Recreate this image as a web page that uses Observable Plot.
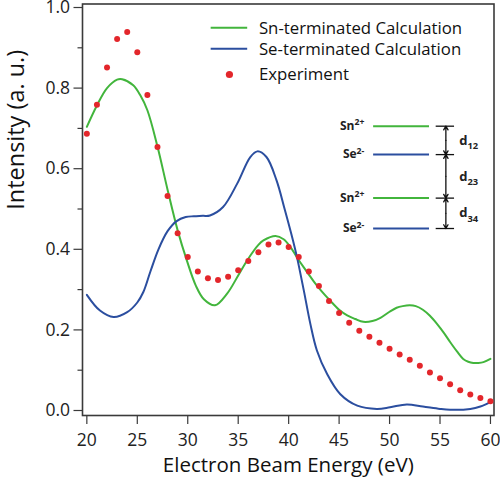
<!DOCTYPE html>
<html><head><meta charset="utf-8">
<script src="https://cdn.jsdelivr.net/npm/d3@7"></script>
<script src="https://cdn.jsdelivr.net/npm/@observablehq/plot@0.6"></script>
<style>body{margin:0;background:#fff}#chart{width:500px;height:478px}</style>
</head><body><div id="chart"></div>
<script>
// ---------- data ----------
const expEnergy = [20,21,22,23,24,25,26,27,28,29,30,31,32,33,34,35,36,37,38,39,40,41,42,43,44,45,46,47,48,49,50,51,52,53,54,55,56,57,58,59,60];
const expIntensity = [0.687,0.759,0.851,0.922,0.939,0.889,0.783,0.654,0.532,0.440,0.381,0.345,0.328,0.324,0.332,0.348,0.371,0.393,0.412,0.417,0.406,0.381,0.345,0.309,0.272,0.242,0.218,0.198,0.183,0.168,0.153,0.139,0.126,0.111,0.094,0.080,0.065,0.050,0.040,0.031,0.023];

const snEnergy = [20,21,22,23,23.5,24.6,25.3,26,27,28,29,29.9,30.8,31.6,32.7,33.9,35,35.9,37,37.5,38.7,39.5,40.2,40.8,41.5,42.5,43.3,44.1,45,45.8,46.6,47.4,48.3,49.1,50,50.7,51.3,52,52.6,53.3,54,54.7,55.4,56,56.7,57.3,57.8,58.3,58.8,59.3,60];
const snIntensity = [0.704,0.757,0.800,0.821,0.822,0.807,0.782,0.745,0.655,0.548,0.447,0.373,0.310,0.276,0.261,0.290,0.335,0.373,0.411,0.422,0.433,0.425,0.405,0.381,0.355,0.320,0.295,0.273,0.250,0.236,0.227,0.220,0.222,0.230,0.245,0.255,0.259,0.261,0.259,0.250,0.235,0.215,0.192,0.170,0.146,0.128,0.121,0.118,0.118,0.120,0.128];

const seEnergy = [20,21.3,22.65,24,25,25.6,26.3,27.1,28,28.9,29.8,30.6,31.5,32.2,33.5,34.9,36.2,36.9,37.8,38.8,39.6,40.43,40.83,41.5,42.15,42.8,43.8,45.1,46.8,48.75,50.05,51.7,53.3,55,56,58,59,60];
const seIntensity = [0.287,0.248,0.232,0.244,0.268,0.294,0.345,0.400,0.445,0.470,0.480,0.482,0.483,0.484,0.505,0.563,0.629,0.643,0.629,0.571,0.500,0.422,0.380,0.298,0.215,0.149,0.091,0.041,0.012,0.004,0.008,0.015,0.010,0.004,0.002,0.004,0.010,0.021];

const yMajorTicks = [0.0,0.2,0.4,0.6,0.8,1.0];
const yMinorTicks = [0.1,0.3,0.5,0.7,0.9];
const xTicks = [20,25,30,35,40,45,50,55,60];

const seriesNames = ["Sn-terminated Calculation","Se-terminated Calculation","Experiment"];
const xTitle = "Electron Beam Energy (eV)";
const yTitle = "Intensity (a. u.)";
const layerLabels = ["Sn^2+","Se^2-","Sn^2+","Se^2-"];
const spacingLabels = ["d_12","d_23","d_34"];

// ---------- styles & layout ----------
const GREEN = "#42b53c", BLUE = "#2b4e9f", RED = "#e3262b", AXIS = "#3a3a3a";
const FONT = "'Open Sans', sans-serif";
const ctx = document.createElement("canvas").getContext("2d");
function fit(text, target, weight = "normal") {
  ctx.font = `${weight} 100px ${FONT}`;
  return 100 * target / ctx.measureText(text).width;
}
const tickSize = 17.5;
const xTitleSize = fit(xTitle, 251);
const yTitleSize = fit(yTitle, 160);
const legendSize = Math.min(16.8, fit(seriesNames[0], 215));

const sn = snEnergy.map((x, i) => ({x, y: snIntensity[i]}));
const se = seEnergy.map((x, i) => ({x, y: seIntensity[i]}));
const ex = expEnergy.map((x, i) => ({x, y: expIntensity[i]}));

// legend placement (data units)
const legX1 = 32.32, legX2 = 35.94, legDotX = 34.13, legTextX = 37.05;
const legLineY = [0.9496, 0.8975], legDotY = 0.8337, legTextY = [0.9475, 0.8955, 0.834];
// inset placement (data units)
const lvY = [0.7055, 0.635, 0.527, 0.4516];
const lvLabelX = 47.5, lvX1 = 48.42, lvX2 = 53.96, brX1 = 54.62, brX2 = 56.44, brX = 55.58, dX = 56.9;
const colorOf = s => s.startsWith("Sn") ? GREEN : BLUE;
const segs = [];
for (let i = 0; i < 3; i++) {
  const m = (lvY[i] + lvY[i+1]) / 2;
  segs.push({y1: m, y2: lvY[i]}, {y1: m, y2: lvY[i+1]});
}

const chart = Plot.plot({
  width: 500, height: 478,
  marginLeft: 82, marginRight: 6.5, marginTop: 3.5, marginBottom: 63,
  x: {domain: [19.57, 60.35]},
  y: {domain: [-0.0124, 1.0087]},
  style: {fontFamily: FONT, background: "white", color: "#222", overflow: "visible"},
  marks: [
    Plot.axisY({ticks: yMajorTicks, tickFormat: d3.format(".1f"), tickSize: 8.5, tickPadding: 4, fontSize: tickSize, label: null, stroke: AXIS, strokeWidth: 1.2}),
    Plot.axisY({ticks: yMinorTicks, tickFormat: () => "", tickSize: 4.5, label: null, stroke: AXIS, strokeWidth: 1.2}),
    Plot.axisX({ticks: xTicks, tickSize: 9, tickPadding: 9, fontSize: tickSize, label: null, stroke: AXIS, strokeWidth: 1.2}),
    Plot.frame({stroke: AXIS, strokeWidth: 1.6}),
    Plot.line(sn, {x: "x", y: "y", stroke: GREEN, strokeWidth: 2, curve: "catmull-rom"}),
    Plot.line(se, {x: "x", y: "y", stroke: BLUE, strokeWidth: 2, curve: "catmull-rom"}),
    Plot.dot(ex, {x: "x", y: "y", r: 3, fill: RED}),
    // axis titles
    Plot.text([xTitle], {frameAnchor: "bottom", text: d => d, lineAnchor: "top", dy: 42, fontSize: xTitleSize, fill: "#111"}),
    Plot.text([yTitle], {frameAnchor: "left", text: d => d, rotate: -90, lineAnchor: "top", dx: -75.5, fontSize: yTitleSize, fill: "#111"}),
    // legend
    Plot.ruleY(legLineY, {y: d => d, x1: legX1, x2: legX2, stroke: (d, i) => [GREEN, BLUE][i], strokeWidth: 2}),
    Plot.dot([legDotY], {x: legDotX, y: d => d, r: 3.6, fill: RED}),
    Plot.text(seriesNames, {x: legTextX, y: (d, i) => legTextY[i], text: d => d, textAnchor: "start", fontSize: legendSize, fill: "#111"}),
    // inset schematic
    Plot.ruleY(lvY, {y: d => d, x1: lvX1, x2: lvX2, stroke: (d, i) => colorOf(layerLabels[i]), strokeWidth: 2}),
    Plot.text(layerLabels, {x: lvLabelX, y: (d, i) => lvY[i], text: d => d, textAnchor: "end", fontSize: 12, fontWeight: "bold", fill: "#222"}),
    Plot.ruleY(lvY, {y: d => d, x1: brX1, x2: brX2, stroke: "#111", strokeWidth: 1.3}),
    Plot.arrow(segs, {x1: brX, x2: brX, y1: "y1", y2: "y2", bend: 0, headLength: 5, stroke: "#111", strokeWidth: 1.3}),
    Plot.text(spacingLabels, {x: dX, y: (d, i) => (lvY[i] + lvY[i+1]) / 2, text: d => d, textAnchor: "start", fontSize: 13, fontWeight: "bold", fill: "#222"})
  ]
});

// superscripts / subscripts
const NS = "http://www.w3.org/2000/svg";
for (const t of chart.querySelectorAll("text")) {
  const s = t.textContent;
  const m = s.match(/^([^\^_]+)([\^_])(.+)$/);
  if (!m) continue;
  t.textContent = "";
  const a = document.createElementNS(NS, "tspan"); a.textContent = m[1]; t.appendChild(a);
  const b = document.createElementNS(NS, "tspan"); b.textContent = m[3];
  b.setAttribute("font-size", "0.72em");
  b.setAttribute("dy", m[2] === "^" ? "-0.55em" : "0.45em");
  t.appendChild(b);
}
document.getElementById("chart").appendChild(chart);
</script>
</body></html>
